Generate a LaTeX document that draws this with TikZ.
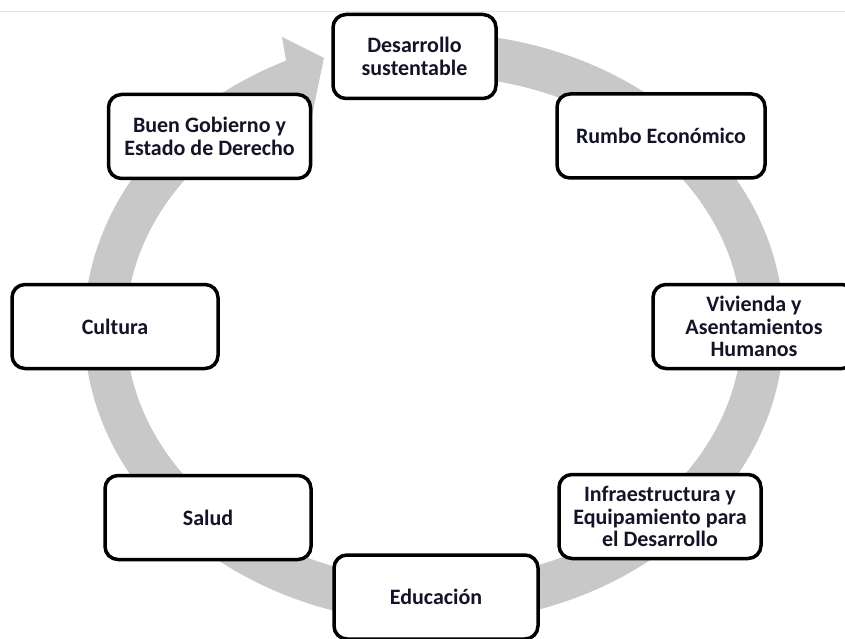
\documentclass[tikz,border=0pt]{standalone}
\usepackage{fontspec}
\setmainfont{Carlito}

\definecolor{ringgray}{RGB}{200,200,200}
\definecolor{labelink}{RGB}{20,20,40}

\tikzset{
  stage/.style={draw=black, line width=3.5pt, rounded corners=13pt, fill=white,
    minimum width=202pt, minimum height=84pt, align=center, text=labelink,
    font=\fontsize{22}{22.8}\selectfont\bfseries}
}

\begin{document}
\begin{tikzpicture}[x=1pt, y=1pt]
	% page frame
	\useasboundingbox (0,0) rectangle (845,638);
	\clip (0,0) rectangle (845,638);
	
	% thin rule along the top
	\draw[gray!20, line width=1pt] (0,626) -- (845,626);
	
	% big circular arrow behind the boxes
	\fill[ringgray] (434,310) ++(95:350 and 295)
		arc[start angle=95, end angle=-245, x radius=350, y radius=295]
		-- (282,601) -- (324,580) -- (311,518) -- (303.8,538.4)
		arc[start angle=-245, end angle=95, x radius=308, y radius=252] -- cycle;
	
	% the stages round the cycle
	\node[stage, minimum width=163pt] (desarrollo) at (414.5,581.5) {Desarrollo\\sustentable};
	\node[stage, minimum width=208pt] (rumbo) at (661,502) {Rumbo Económico};
	\node[stage] (vivienda) at (754,311.5) {Vivienda y\\Asentamientos\\Humanos};
	\node[stage] (infra) at (660,121.5) {Infraestructura y\\Equipamiento para\\el Desarrollo};
	\node[stage, minimum width=204pt] (educacion) at (436,41) {Educación};
	\node[stage, minimum width=206pt] (salud) at (208,120.5) {Salud};
	\node[stage, minimum width=206pt] (cultura) at (115,311.5) {Cultura};
	\node[stage] (gobierno) at (209.5,501.5) {Buen Gobierno y\\Estado de Derecho};
\end{tikzpicture}
\end{document}
